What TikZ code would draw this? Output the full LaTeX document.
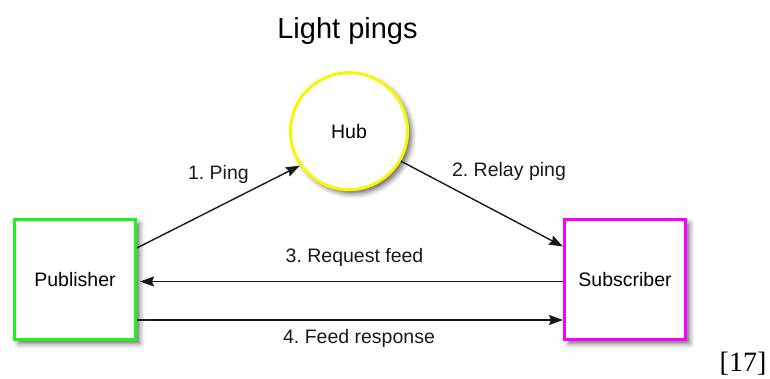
\documentclass[tikz,border=0pt]{standalone}
\usepackage{fontspec}
\setmainfont{Liberation Sans}
\newfontfamily\citefont{Liberation Serif}
\usetikzlibrary{arrows.meta,positioning,shadows.blur}
\definecolor{pubgreen}{RGB}{25,245,25}
\definecolor{submagenta}{RGB}{250,0,250}
\definecolor{hubyellow}{RGB}{250,245,0}
\frenchspacing

\begin{document}
\begin{tikzpicture}[
  x=1pt, y=1pt,
  box/.style={rectangle, draw, line width=3pt, fill=white, minimum width=121pt, minimum height=120pt,
    font=\fontsize{19.5}{22}\selectfont,
    blur shadow={shadow xshift=4pt, shadow yshift=-4pt, shadow blur radius=5pt, shadow opacity=60}},
  hubnode/.style={circle, draw=hubyellow, line width=3pt, fill=white, minimum size=117pt,
    font=\fontsize{19.5}{22}\selectfont,
    blur shadow={shadow xshift=4pt, shadow yshift=-4pt, shadow blur radius=5pt, shadow opacity=60}},
  arrow/.style={-{Stealth[length=14pt, width=10pt, inset=2pt]}, line width=1.4pt, draw=black!90},
  lbl/.style={font=\fontsize{19.5}{22}\selectfont, text=black!90}
]
  \useasboundingbox (0,0) rectangle (770,378);
  \node[box, draw=pubgreen] (publisher) at (75,98.5) {Publisher};
  \node[box, draw=submagenta, right=426pt of publisher] (subscriber) {Subscriber};
  \node[hubnode] (hub) at (349,246.8) {Hub};
  \node[font=\fontsize{29}{32}\selectfont] (title) at (347.5,347) {Light pings};
  \node[font=\citefont\fontsize{28}{32}\selectfont] (cite) at (743,14) {[17]};

  \draw[arrow] (publisher.27.5) -- (hub.215) node[lbl, midway, yshift=32pt] {1. Ping};
  \draw[arrow] (hub.-30) -- (subscriber.152) node[lbl, midway, xshift=27pt, yshift=32pt] {2. Relay ping};
  \draw[arrow, shorten >=3pt] ([yshift=-2pt]subscriber.west) -- ([yshift=-2pt]publisher.east)
    node[lbl, midway, xshift=4.5pt, yshift=24.5pt] {3. Request feed};
  \draw[arrow] ([yshift=-40.5pt]publisher.east) -- ([yshift=-40.5pt]subscriber.west)
    node[lbl, midway, xshift=9pt, yshift=-18pt] {4. Feed response};
\end{tikzpicture}
\end{document}
